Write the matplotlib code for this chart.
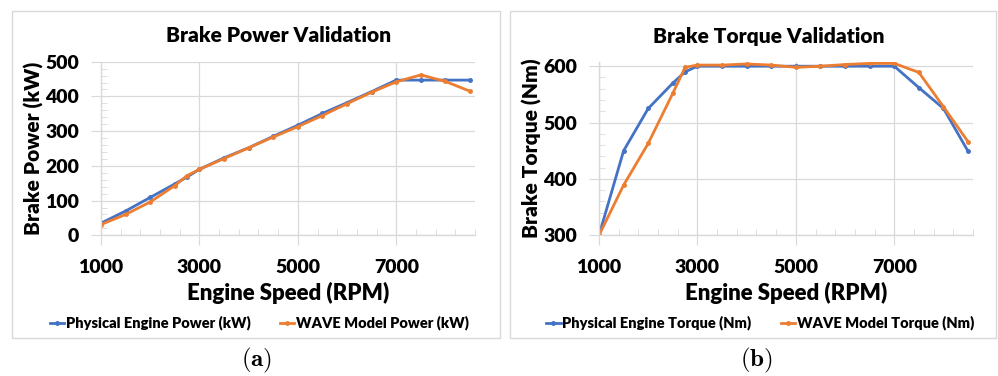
import matplotlib.pyplot as plt
from matplotlib.patches import Rectangle
import numpy as np

# engine test points (RPM)
rpm = [1000, 1500, 2000, 2500, 2750, 3000, 3500, 4000, 4500,
       5000, 5500, 6000, 6500, 7000, 7500, 8000, 8500]

# brake power (kW)
power_phys = [35, 70, 109, 148, 168, 190, 223, 252, 285,
              317, 351, 382, 414, 447, 447, 447, 447]
power_wave = [31, 60, 96, 143, 172, 190, 221, 252, 283,
              313, 345, 379, 412, 442, 462, 443, 415]

# brake torque (Nm)
torque_phys = [300, 450, 525, 570, 590, 600, 600, 600, 600,
               600, 600, 600, 600, 600, 562, 525, 449]
torque_wave = [300, 389, 463, 552, 598, 602, 602, 604, 602,
               598, 600, 603, 605, 605, 589, 528, 466]

BLUE = "#4472C4"
ORANGE = "#ED7D31"
GRID = "#D9D9D9"
FONT = "Lato"
WEIGHT = 'heavy'

plt.rcParams['font.family'] = [FONT, 'DejaVu Sans']
plt.rcParams['mathtext.fontset'] = 'cm'

fig = plt.figure(figsize=(9.98, 3.76), dpi=100)

# light frames around each sub-chart
fig.patches.append(Rectangle((12/998, 1-338/376), 488/998, 327/376,
                             transform=fig.transFigure, fill=False,
                             edgecolor=GRID, lw=1))
fig.patches.append(Rectangle((510/998, 1-338/376), 486/998, 327/376,
                             transform=fig.transFigure, fill=False,
                             edgecolor=GRID, lw=1))


def style_axes(ax, ylo, yhi, yticks, yminor):
    ax.set_xlim(1000, 8600)
    ax.set_ylim(ylo, yhi)
    ax.set_xticks([1000, 3000, 5000, 7000])
    ax.set_xticks(np.arange(1000, 8601, 400), minor=True)
    ax.set_yticks(yticks)
    ax.set_yticks(np.arange(ylo, yhi + 1, yminor), minor=True)
    ax.grid(True, which='major', color=GRID, lw=0.9)
    ax.set_axisbelow(True)
    for s in ['top', 'right']:
        ax.spines[s].set_visible(False)
    for s in ['left', 'bottom']:
        ax.spines[s].set_color(GRID)
        ax.spines[s].set_linewidth(1)
    ax.tick_params(which='major', length=7, color=GRID, direction='out',
                   labelsize=14, pad=10)
    ax.tick_params(axis='y', which='major', pad=9)
    ax.tick_params(which='minor', length=4, color=GRID, direction='in')
    for lbl in ax.get_xticklabels() + ax.get_yticklabels():
        lbl.set_fontweight(WEIGHT)


def draw_panel(ax, x, y1, y2, lab1, lab2, title, ylabel, tag, cx, lx, tx):
    ax.plot(x, y1, color=BLUE, lw=2, marker='o', ms=2.5, label=lab1)
    ax.plot(x, y2, color=ORANGE, lw=2, marker='o', ms=2.5, label=lab2)
    fig.text(cx/998, 1-36/376, title, ha='center', va='center',
             fontsize=15, fontweight=WEIGHT)
    ax.set_xlabel("Engine Speed (RPM)", fontsize=16, fontweight=WEIGHT)
    ax.xaxis.set_label_coords(0.5, -0.27)
    ax.set_ylabel(ylabel, fontsize=15, fontweight=WEIGHT)
    ax.yaxis.set_label_coords(-0.153, 0.5)
    fig.legend(handles=ax.get_lines(), loc='center',
               bbox_to_anchor=(lx/998, 1-323/376), ncol=2, frameon=False,
               prop={'family': FONT, 'weight': WEIGHT, 'size': 10.5},
               handlelength=1.0, handletextpad=0.1, columnspacing=2.0)
    fig.text(tx/998, 1-360/376, r'$(\mathbf{%s})$' % tag,
             ha='center', va='center', fontsize=18)


ax1 = fig.add_axes([101/998, 1-235.3/376, 374/998, 173.6/376])
style_axes(ax1, 0, 500, [0, 100, 200, 300, 400, 500], 20)
draw_panel(ax1, rpm, power_phys, power_wave,
           "Physical Engine Power (kW)", "WAVE Model Power (kW)",
           "Brake Power Validation", "Brake Power (kW)", 'a', 279, 259, 257)

ax2 = fig.add_axes([599/998, 1-235.3/376, 374/998, 173.6/376])
style_axes(ax2, 300, 608, [300, 400, 500, 600], 20)
draw_panel(ax2, rpm, torque_phys, torque_wave,
           "Physical Engine Torque (Nm)", "WAVE Model Torque (Nm)",
           "Brake Torque Validation", "Brake Torque (Nm)", 'b', 769, 760, 756)

fig.savefig("out.png", dpi=100)
